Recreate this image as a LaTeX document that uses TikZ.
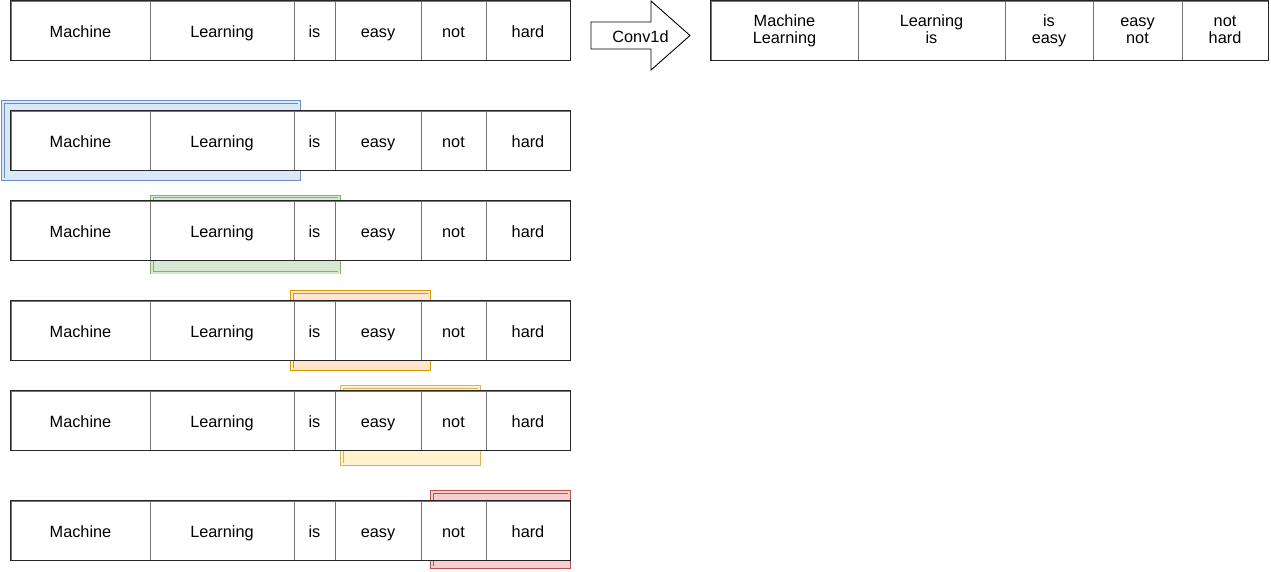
\documentclass[tikz,border=0pt]{standalone}
\usepackage{fontspec}
\setmainfont{Liberation Sans}
\definecolor{bluef}{HTML}{DAE8FC}\definecolor{blued}{HTML}{6C8EBF}
\definecolor{greenf}{HTML}{D5E8D4}\definecolor{greend}{HTML}{82B366}
\definecolor{orangef}{HTML}{FFE6CC}\definecolor{oranged}{HTML}{D79B00}
\definecolor{yellowf}{HTML}{FFF2CC}\definecolor{yellowd}{HTML}{D6B656}
\definecolor{redf}{HTML}{F8CECC}\definecolor{redd}{HTML}{B85450}
\begin{document}
\begin{tikzpicture}[x=1pt,y=-1pt,
  every node/.style={font=\fontsize{16.3}{16.7}\selectfont},
  cell/.style={draw=black!55, line width=0.7pt, fill=white, rectangle, inner sep=0pt, minimum height=59pt},
  word/.style={cell, text height=13pt, text depth=0pt},
  pair/.style={cell, align=center, text height=25pt, text depth=0pt},
  frame/.style={draw=black!85, line width=1.2pt},
  hl/.style 2 args={draw=#1, fill=#2, double=#2, double distance=1.6pt, line width=0.9pt, rectangle, inner sep=0pt},
  arrowshape/.style={draw=black, line width=0.9pt, fill=white, line join=miter}
]
\useasboundingbox (0,0) rectangle (1271,571);
% highlights
\node[hl={blued}{bluef}, minimum width=296.4pt, minimum height=77.4pt] (hb) at (151,140.5) {};
\node[hl={greend}{greenf}, minimum width=187.4pt, minimum height=76.4pt] (hg) at (245.5,234.5) {};
\node[hl={oranged}{orangef}, minimum width=137.4pt, minimum height=77.4pt] (ho) at (360.5,330.5) {};
\node[hl={yellowd}{yellowf}, minimum width=137.4pt, minimum height=77.4pt] (hy) at (410.5,425.5) {};
\node[hl={redd}{redf}, minimum width=137.4pt, minimum height=75.4pt] (hr) at (500.5,529.5) {};
% word rows
\foreach \top [count=\r] in {1,111,201,301,391,501}{
  \foreach \l/\w/\t [count=\i] in {11/139/Machine,150/144/Learning,294/41/is,335/86/easy,421/65/not,486/84/hard}{
    \node[word, minimum width=\w pt] (r\r c\i) at (\l+\w/2, \top+29.5) {\t};
  }
  \draw[frame] (r\r c1.north west) rectangle (r\r c6.south east);
}
% arrow
\draw[arrowshape] (591,22) -- (651,22) -- (651,1) -- (690,35.5) -- (651,70) -- (651,49) -- (591,49) -- cycle;
\node[text height=13pt, text depth=0pt] (conv) at (640.5,35.5) {Conv1d};
% output table
\foreach \l/\w/\t [count=\i] in {711/147/{Machine\\Learning},858/147/{Learning\\is},1005/88/{is\\easy},1093/89/{easy\\not},1182/86/{not\\hard}}{
  \node[pair, minimum width=\w pt] (o\i) at (\l+\w/2, 30.5) {\t};
}
\draw[frame] (o1.north west) rectangle (o5.south east);
\end{tikzpicture}
\end{document}
